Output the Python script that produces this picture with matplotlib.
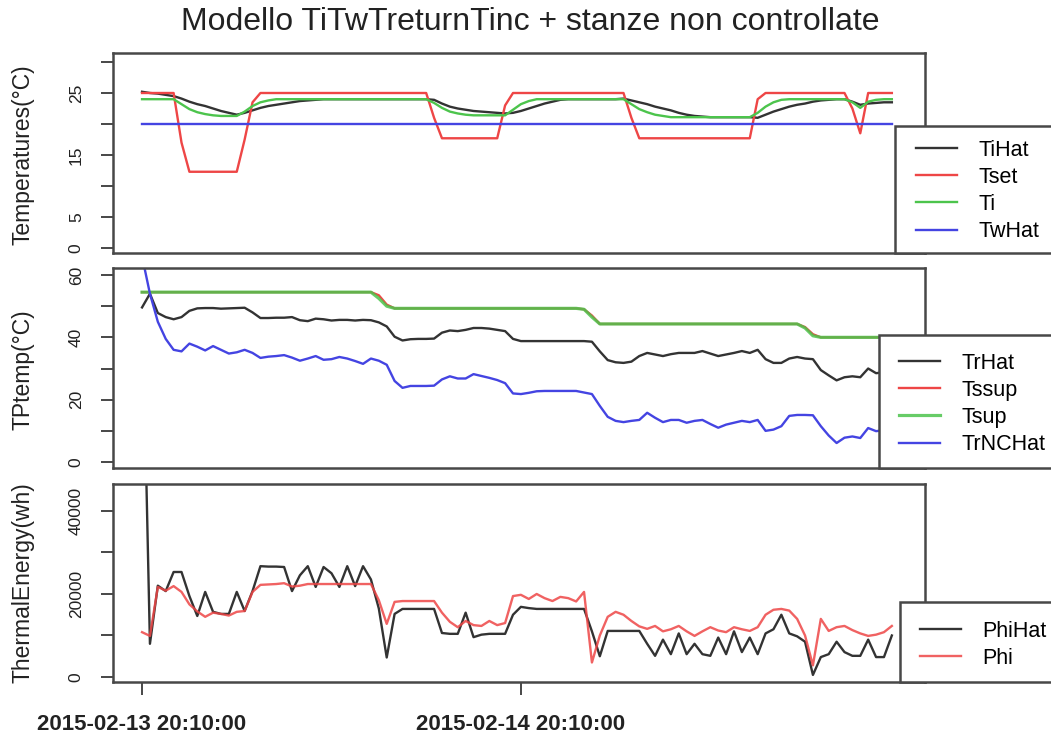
import matplotlib
matplotlib.use("Agg")
import matplotlib.pyplot as plt
from matplotlib.patches import Rectangle
import pandas as pd

plt.rcParams['font.family'] = ['Liberation Sans', 'DejaVu Sans']

# ---- time axis (half-hourly samples) ----
times = pd.date_range("2015-02-13 20:10:00", periods=96, freq="30min")
x_tick_times = [pd.Timestamp("2015-02-13 20:10:00"), pd.Timestamp("2015-02-14 20:10:00")]
x_tick_labels = ["2015-02-13 20:10:00", "2015-02-14 20:10:00"]

# ---- panel 1: room temperatures ----
TiHat = [25.2, 25.0, 24.9, 24.7, 24.5, 24.1, 23.6, 23.2, 22.9, 22.5, 22.1, 21.8,
         21.5, 21.8, 22.2, 22.6, 22.9, 23.1, 23.3, 23.5, 23.7, 23.8, 23.9, 24.0,
         24.0, 24.0, 24.0, 24.0, 24.0, 24.0, 24.0, 24.0, 24.0, 24.0, 24.0, 24.0,
         24.0, 23.9, 23.3, 22.8, 22.5, 22.3, 22.1, 22.0, 21.9, 21.8, 21.7, 21.8,
         22.1, 22.5, 22.9, 23.3, 23.6, 23.9, 24.0, 24.0, 24.0, 24.0, 24.0, 24.0,
         24.0, 24.1, 23.8, 23.5, 23.2, 22.8, 22.5, 22.2, 21.8, 21.5, 21.3, 21.2,
         21.1, 21.1, 21.1, 21.1, 21.1, 21.1, 21.0, 21.5, 22.0, 22.4, 22.8, 23.1,
         23.3, 23.6, 23.8, 23.9, 24.0, 24.0, 23.6, 23.1, 23.3, 23.4, 23.5, 23.5]
Tset = [25.0, 25.0, 25.0, 25.0, 25.0, 17.0, 12.3, 12.3, 12.3, 12.3, 12.3, 12.3,
        12.3, 17.5, 23.5, 25.0, 25.0, 25.0, 25.0, 25.0, 25.0, 25.0, 25.0, 25.0,
        25.0, 25.0, 25.0, 25.0, 25.0, 25.0, 25.0, 25.0, 25.0, 25.0, 25.0, 25.0,
        25.0, 21.0, 17.7, 17.7, 17.7, 17.7, 17.7, 17.7, 17.7, 17.7, 23.0, 25.0,
        25.0, 25.0, 25.0, 25.0, 25.0, 25.0, 25.0, 25.0, 25.0, 25.0, 25.0, 25.0,
        25.0, 25.0, 21.0, 17.7, 17.7, 17.7, 17.7, 17.7, 17.7, 17.7, 17.7, 17.7,
        17.7, 17.7, 17.7, 17.7, 17.7, 17.7, 24.0, 25.0, 25.0, 25.0, 25.0, 25.0,
        25.0, 25.0, 25.0, 25.0, 25.0, 25.0, 22.5, 18.5, 25.0, 25.0, 25.0, 25.0]
Ti = [24.0, 24.0, 24.0, 24.0, 24.0, 23.2, 22.4, 21.9, 21.6, 21.4, 21.3, 21.3,
      21.3, 22.0, 22.9, 23.5, 23.8, 24.0, 24.0, 24.0, 24.0, 24.0, 24.0, 24.0,
      24.0, 24.0, 24.0, 24.0, 24.0, 24.0, 24.0, 24.0, 24.0, 24.0, 24.0, 24.0,
      24.0, 23.4, 22.6, 22.0, 21.7, 21.5, 21.4, 21.4, 21.4, 21.4, 21.4, 22.3,
      23.2, 23.7, 24.0, 24.0, 24.0, 24.0, 24.0, 24.0, 24.0, 24.0, 24.0, 24.0,
      24.0, 24.0, 23.2, 22.4, 21.9, 21.5, 21.3, 21.1, 21.1, 21.1, 21.1, 21.1,
      21.1, 21.1, 21.1, 21.1, 21.1, 21.1, 21.8, 22.8, 23.5, 23.9, 24.0, 24.0,
      24.0, 24.0, 24.0, 24.0, 24.0, 24.0, 23.5, 22.6, 23.6, 23.9, 24.0, 24.0]
TwHat = [20.0, 20.0, 20.0, 20.0, 20.0, 20.0, 20.0, 20.0, 20.0, 20.0, 20.0, 20.0,
         20.0, 20.0, 20.0, 20.0, 20.0, 20.0, 20.0, 20.0, 20.0, 20.0, 20.0, 20.0,
         20.0, 20.0, 20.0, 20.0, 20.0, 20.0, 20.0, 20.0, 20.0, 20.0, 20.0, 20.0,
         20.0, 20.0, 20.0, 20.0, 20.0, 20.0, 20.0, 20.0, 20.0, 20.0, 20.0, 20.0,
         20.0, 20.0, 20.0, 20.0, 20.0, 20.0, 20.0, 20.0, 20.0, 20.0, 20.0, 20.0,
         20.0, 20.0, 20.0, 20.0, 20.0, 20.0, 20.0, 20.0, 20.0, 20.0, 20.0, 20.0,
         20.0, 20.0, 20.0, 20.0, 20.0, 20.0, 20.0, 20.0, 20.0, 20.0, 20.0, 20.0,
         20.0, 20.0, 20.0, 20.0, 20.0, 20.0, 20.0, 20.0, 20.0, 20.0, 20.0, 20.0]

# ---- panel 2: supply / return water temperatures ----
TrHat = [49.6, 54.0, 47.8, 46.5, 45.8, 46.5, 48.5, 49.3, 49.4, 49.4, 49.2, 49.3,
         49.4, 49.5, 48.0, 46.2, 46.2, 46.3, 46.3, 46.5, 45.5, 45.2, 46.0, 45.8,
         45.4, 45.6, 45.6, 45.4, 45.6, 45.5, 44.8, 43.5, 40.2, 39.0, 39.4, 39.5,
         39.5, 39.6, 41.5, 42.2, 42.0, 42.4, 43.0, 43.0, 42.8, 42.4, 42.0, 39.5,
         38.8, 38.8, 38.8, 38.8, 38.8, 38.8, 38.8, 38.8, 38.8, 38.6, 35.5, 32.7,
         32.0, 31.8, 32.2, 34.0, 35.0, 34.5, 34.0, 34.6, 35.0, 35.0, 35.0, 35.6,
         34.8, 34.0, 34.5, 35.0, 35.6, 35.0, 36.0, 33.0, 31.8, 31.8, 33.2, 33.7,
         33.2, 33.0, 29.5, 27.8, 26.2, 27.2, 27.5, 27.2, 30.0, 28.5, 28.8, 29.0]
Tssup = [54.5, 54.5, 54.5, 54.5, 54.5, 54.5, 54.5, 54.5, 54.5, 54.5, 54.5, 54.5,
         54.5, 54.5, 54.5, 54.5, 54.5, 54.5, 54.5, 54.5, 54.5, 54.5, 54.5, 54.5,
         54.5, 54.5, 54.5, 54.5, 54.5, 54.5, 53.5, 50.5, 49.3, 49.3, 49.3, 49.3,
         49.3, 49.3, 49.3, 49.3, 49.3, 49.3, 49.3, 49.3, 49.3, 49.3, 49.3, 49.3,
         49.3, 49.3, 49.3, 49.3, 49.3, 49.3, 49.3, 49.3, 49.0, 47.0, 44.3, 44.3,
         44.3, 44.3, 44.3, 44.3, 44.3, 44.3, 44.3, 44.3, 44.3, 44.3, 44.3, 44.3,
         44.3, 44.3, 44.3, 44.3, 44.3, 44.3, 44.3, 44.3, 44.3, 44.3, 44.3, 44.3,
         43.3, 41.0, 40.0, 40.0, 40.0, 40.0, 40.0, 40.0, 40.0, 40.0, 40.0, 40.0]
Tsup = [54.5, 54.5, 54.5, 54.5, 54.5, 54.5, 54.5, 54.5, 54.5, 54.5, 54.5, 54.5,
        54.5, 54.5, 54.5, 54.5, 54.5, 54.5, 54.5, 54.5, 54.5, 54.5, 54.5, 54.5,
        54.5, 54.5, 54.5, 54.5, 54.5, 54.5, 52.5, 50.0, 49.3, 49.3, 49.3, 49.3,
        49.3, 49.3, 49.3, 49.3, 49.3, 49.3, 49.3, 49.3, 49.3, 49.3, 49.3, 49.3,
        49.3, 49.3, 49.3, 49.3, 49.3, 49.3, 49.3, 49.3, 49.0, 46.5, 44.3, 44.3,
        44.3, 44.3, 44.3, 44.3, 44.3, 44.3, 44.3, 44.3, 44.3, 44.3, 44.3, 44.3,
        44.3, 44.3, 44.3, 44.3, 44.3, 44.3, 44.3, 44.3, 44.3, 44.3, 44.3, 44.3,
        43.0, 40.5, 40.0, 40.0, 40.0, 40.0, 40.0, 40.0, 40.0, 40.0, 40.0, 40.0]
TrNCHat = [66.0, 54.0, 45.0, 39.5, 36.0, 35.5, 38.0, 37.0, 35.8, 37.2, 36.0, 34.8,
           35.2, 36.0, 35.0, 33.4, 33.8, 34.0, 34.3, 33.5, 32.5, 33.2, 34.0, 32.8,
           33.0, 33.7, 33.2, 32.4, 31.5, 33.2, 32.5, 31.2, 26.0, 23.8, 24.4, 24.4,
           24.4, 24.5, 26.5, 27.5, 26.8, 26.8, 28.2, 27.6, 27.0, 26.3, 25.3, 22.0,
           21.8, 22.2, 22.7, 22.8, 22.8, 22.8, 22.8, 22.8, 22.3, 21.8, 18.0, 14.5,
           13.2, 12.8, 13.2, 13.5, 15.8, 14.2, 12.8, 13.5, 13.5, 12.6, 13.2, 13.5,
           12.2, 11.0, 12.0, 12.6, 13.2, 12.8, 13.5, 10.0, 10.4, 11.5, 14.8, 15.1,
           15.1, 15.0, 11.5, 8.5, 6.1, 7.8, 8.2, 7.7, 10.9, 9.9, 10.2, 10.5]

# ---- panel 3: thermal energy ----
PhiHat = [95000, 8000, 22000, 20700, 25300, 25300, 19500, 14700, 20500, 15700, 15200, 15200,
          20500, 15900, 20700, 26700, 26600, 26600, 26500, 20700, 24500, 26700, 21700, 26500,
          25000, 21700, 26700, 21900, 26700, 23500, 16500, 4700, 15200, 16400, 16400, 16400,
          16400, 16400, 10600, 10400, 10400, 15500, 9600, 10200, 10400, 10400, 10400, 15000,
          16900, 16600, 16400, 16400, 16400, 16400, 16400, 16400, 16400, 11000, 5000, 11100,
          11100, 11100, 11100, 11100, 8000, 5100, 9000, 5500, 10500, 5500, 8000, 5500,
          5100, 9500, 5500, 11000, 6000, 9500, 5500, 10500, 11500, 15000, 10500, 9800,
          8500, 500, 4800, 5500, 8500, 6000, 5100, 5100, 9000, 4800, 4800, 10000]
Phi = [10800, 9900, 21700, 20800, 21900, 20500, 17500, 15800, 14500, 15500, 15200, 14800,
       15700, 15900, 20500, 22200, 22300, 22400, 22600, 21800, 22000, 22400, 22400, 22400,
       22400, 22400, 22400, 22400, 22400, 22400, 18500, 12800, 18100, 18300, 18300, 18300,
       18300, 18300, 15500, 13300, 12000, 13500, 12500, 12300, 13500, 12500, 13000, 19500,
       19800, 18800, 20000, 19000, 18300, 19300, 19000, 18200, 20500, 3500, 10000, 14500,
       15700, 15000, 13500, 12200, 11600, 12300, 11000, 11500, 12300, 11000, 9900, 11000,
       12000, 11200, 10800, 12000, 11500, 11100, 12000, 15000, 16200, 16400, 16000, 14000,
       10000, 2800, 14000, 11100, 12000, 12300, 11300, 10500, 9900, 10200, 10800, 12300]

# ---- styling ----
C_BLACK = '#333333'
C_RED = '#ee4646'
C_GREEN = '#4cc44c'
C_BLUE = '#4444e2'
C_FRAME = '#484848'
LW = 1.7

W, H = 1051, 740
fig = plt.figure(figsize=(W / 100, H / 100), dpi=100)


def px_axes(x0, y0, x1, y1):
    return fig.add_axes([x0 / W, 1 - y1 / H, (x1 - x0) / W, (y1 - y0) / H])


xlim = (times[0] - pd.Timedelta(hours=1.84), times[0] + pd.Timedelta(hours=49.6))


def style(ax, yticks, ylabels, ylim):
    ax.set_xlim(*xlim)
    ax.set_ylim(*ylim)
    ax.set_yticks(yticks, labels=ylabels)
    for s in ax.spines.values():
        s.set_color(C_FRAME)
        s.set_linewidth(1.8)
    ax.tick_params(axis='y', direction='out', length=9, width=1.4, color=C_FRAME,
                   labelsize=12.5, pad=12, labelrotation=90, labelcolor='#222222')
    for lbl in ax.get_yticklabels():
        lbl.set_va('center')


ax1 = px_axes(113, 53, 925, 253)
ax2 = px_axes(113, 268, 925, 468)
ax3 = px_axes(113, 484, 925, 682)

# panel 1
l_tihat, = ax1.plot(times, TiHat, color=C_BLACK, lw=LW)
l_tset, = ax1.plot(times, Tset, color=C_RED, lw=LW)
l_ti, = ax1.plot(times, Ti, color=C_GREEN, lw=LW)
l_tw, = ax1.plot(times, TwHat, color=C_BLUE, lw=LW)
style(ax1, [0, 5, 10, 15, 20, 25, 30], ['0', '5', '', '15', '', '25', ''], (-0.8, 31.45))

# panel 2
l_trhat, = ax2.plot(times, TrHat, color=C_BLACK, lw=LW)
l_tssup, = ax2.plot(times, Tssup, color=C_RED, lw=LW)
l_tsup, = ax2.plot(times, Tsup, color=C_GREEN, lw=LW + 0.6, alpha=0.85)
l_trnc, = ax2.plot(times, TrNCHat, color=C_BLUE, lw=LW)
style(ax2, [0, 10, 20, 30, 40, 50, 60], ['0', '', '20', '', '40', '', '60'], (-1.92, 62.25))

# panel 3
l_phihat, = ax3.plot(times, PhiHat, color=C_BLACK, lw=LW)
l_phi, = ax3.plot(times, Phi, color=C_RED, lw=LW, alpha=0.85)
style(ax3, [0, 10000, 20000, 30000, 40000], ['0', '', '20000', '', '40000'], (-1205, 46500))

for ax in (ax1, ax2):
    ax.tick_params(axis='x', bottom=False, labelbottom=False)
ax3.set_xticks(x_tick_times, labels=x_tick_labels)
ax3.tick_params(axis='x', direction='out', length=9, width=1.4, color=C_FRAME,
                labelsize=16, pad=14, labelcolor='#222222')
for lbl in ax3.get_xticklabels():
    lbl.set_fontweight('bold')

# titles and axis labels
fig.text(530 / W, 1 - 22 / H, "Modello TiTwTreturnTinc + stanze non controllate",
         ha='center', va='center', fontsize=23, color='#222222')
for label, yc in (("Temperatures(°C)", 155), ("TPtemp(°C)", 370), ("ThermalEnergy(wh)", 583)):
    fig.text(23 / W, 1 - yc / H, label, rotation=90, ha='center', va='center',
             fontsize=16.5, color='#222222')


# legend boxes running off the right edge
def legend_box(x0, y0, y1, handles, labels, hx, yc):
    fig.patches.append(Rectangle((x0 / W, 1 - y1 / H), (W + 20 - x0) / W, (y1 - y0) / H,
                                 transform=fig.transFigure, facecolor='white',
                                 edgecolor=C_FRAME, lw=1.8, zorder=4))
    fig.legend(handles, labels, loc='center left', bbox_to_anchor=(hx / W, 1 - yc / H),
               frameon=False, fontsize=15.5, handlelength=1.9, handletextpad=1.0,
               labelspacing=0.28, borderpad=0, borderaxespad=0)


legend_box(895, 126, 253, [l_tihat, l_tset, l_ti, l_tw], ['TiHat', 'Tset', 'Ti', 'TwHat'], 916, 191)
legend_box(879, 335, 468, [l_trhat, l_tssup, l_tsup, l_trnc],
           ['TrHat', 'Tssup', 'Tsup', 'TrNCHat'], 899, 404)
legend_box(900, 602, 682, [l_phihat, l_phi], ['PhiHat', 'Phi'], 920, 645)

fig.savefig("out.png", dpi=100)
